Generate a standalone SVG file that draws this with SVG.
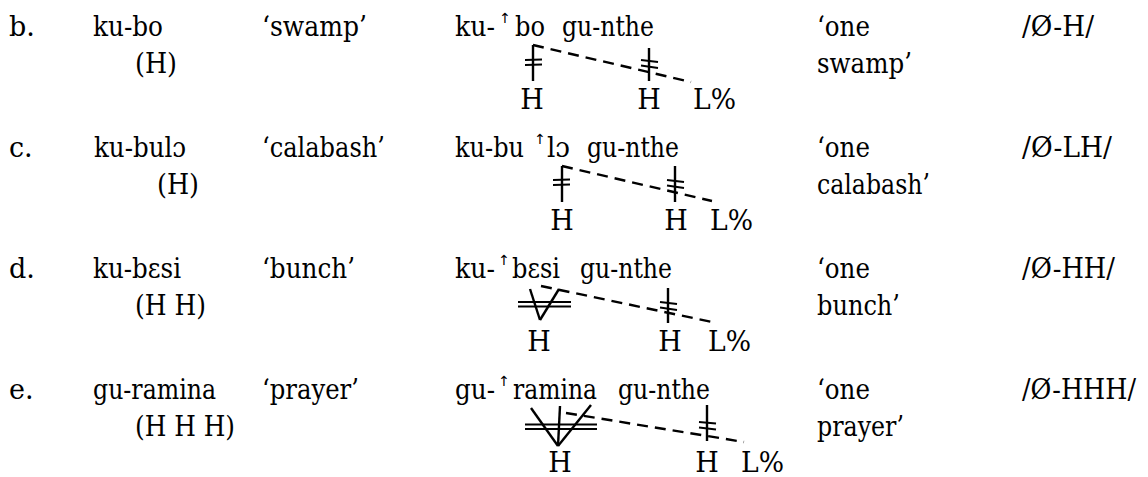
<svg xmlns="http://www.w3.org/2000/svg" width="1148" height="477" viewBox="0 0 1148 477">
<style>
text { font-family: 'DejaVu Serif', 'Liberation Serif', serif; font-size: 27px; fill: #000; }
.arr { font-family: 'DejaVu Sans', sans-serif; font-size: 14px; text-anchor: middle; }
.mid { text-anchor: middle; }
.assoc { stroke: #000; stroke-width: 2.4; fill: none; }
.dash { stroke: #000; stroke-width: 2.4; stroke-dasharray: 11 7; fill: none; }
.bar { stroke: #000; stroke-width: 1.8; fill: none; }
</style>
<rect width="1148" height="477" fill="#fff"/>

<g id="row-b">
  <text x="9" y="36">b.</text>
  <text x="93" y="36" textLength="70" lengthAdjust="spacingAndGlyphs">ku-bo</text>
  <text x="135" y="73" textLength="42" lengthAdjust="spacingAndGlyphs">(H)</text>
  <text x="262" y="36" textLength="105" lengthAdjust="spacingAndGlyphs">‘swamp’</text>
  <text x="455" y="36" textLength="40" lengthAdjust="spacingAndGlyphs">ku-</text>
  <text class="arr" x="505" y="23">↑</text>
  <text x="515" y="36" textLength="30" lengthAdjust="spacingAndGlyphs">bo</text>
  <text x="562" y="36" textLength="92" lengthAdjust="spacingAndGlyphs">gu-nthe</text>
  <text class="mid" x="532" y="109">H</text>
  <text class="mid" x="649" y="109">H</text>
  <text x="693" y="109" textLength="43" lengthAdjust="spacingAndGlyphs">L%</text>
  <text x="817" y="36" textLength="53" lengthAdjust="spacingAndGlyphs">‘one</text>
  <text x="817" y="73" textLength="95" lengthAdjust="spacingAndGlyphs">swamp’</text>
  <text x="1022" y="36" textLength="72" lengthAdjust="spacingAndGlyphs">/Ø-H/</text>
</g>

<g id="row-c">
  <text x="9" y="157">c.</text>
  <text x="94" y="157" textLength="92" lengthAdjust="spacingAndGlyphs">ku-bulɔ</text>
  <text x="157" y="194" textLength="42" lengthAdjust="spacingAndGlyphs">(H)</text>
  <text x="262" y="157" textLength="123" lengthAdjust="spacingAndGlyphs">‘calabash’</text>
  <text x="455" y="157" textLength="69" lengthAdjust="spacingAndGlyphs">ku-bu</text>
  <text class="arr" x="540" y="144">↑</text>
  <text x="547" y="157" textLength="23" lengthAdjust="spacingAndGlyphs">lɔ</text>
  <text x="587" y="157" textLength="92" lengthAdjust="spacingAndGlyphs">gu-nthe</text>
  <text class="mid" x="562" y="230">H</text>
  <text class="mid" x="676" y="230">H</text>
  <text x="710" y="230" textLength="43" lengthAdjust="spacingAndGlyphs">L%</text>
  <text x="817" y="157" textLength="53" lengthAdjust="spacingAndGlyphs">‘one</text>
  <text x="817" y="194" textLength="113" lengthAdjust="spacingAndGlyphs">calabash’</text>
  <text x="1022" y="157" textLength="90" lengthAdjust="spacingAndGlyphs">/Ø-LH/</text>
</g>

<g id="row-d">
  <text x="9" y="278">d.</text>
  <text x="93" y="278" textLength="88" lengthAdjust="spacingAndGlyphs">ku-bɛsi</text>
  <text x="135" y="315" textLength="71" lengthAdjust="spacingAndGlyphs">(H H)</text>
  <text x="262" y="278" textLength="93" lengthAdjust="spacingAndGlyphs">‘bunch’</text>
  <text x="455" y="278" textLength="40" lengthAdjust="spacingAndGlyphs">ku-</text>
  <text class="arr" x="504" y="265">↑</text>
  <text x="512" y="278" textLength="48" lengthAdjust="spacingAndGlyphs">bɛsi</text>
  <text x="580" y="278" textLength="92" lengthAdjust="spacingAndGlyphs">gu-nthe</text>
  <text class="mid" x="539" y="351">H</text>
  <text class="mid" x="670" y="351">H</text>
  <text x="708" y="351" textLength="43" lengthAdjust="spacingAndGlyphs">L%</text>
  <text x="817" y="278" textLength="53" lengthAdjust="spacingAndGlyphs">‘one</text>
  <text x="817" y="315" textLength="83" lengthAdjust="spacingAndGlyphs">bunch’</text>
  <text x="1022" y="278" textLength="93" lengthAdjust="spacingAndGlyphs">/Ø-HH/</text>
</g>

<g id="row-e">
  <text x="9" y="399">e.</text>
  <text x="93" y="399" textLength="123" lengthAdjust="spacingAndGlyphs">gu-ramina</text>
  <text x="135" y="436" textLength="100" lengthAdjust="spacingAndGlyphs">(H H H)</text>
  <text x="262" y="399" textLength="97" lengthAdjust="spacingAndGlyphs">‘prayer’</text>
  <text x="455" y="399" textLength="40" lengthAdjust="spacingAndGlyphs">gu-</text>
  <text class="arr" x="504" y="386">↑</text>
  <text x="513" y="399" textLength="84" lengthAdjust="spacingAndGlyphs">ramina</text>
  <text x="618" y="399" textLength="92" lengthAdjust="spacingAndGlyphs">gu-nthe</text>
  <text class="mid" x="560" y="472">H</text>
  <text class="mid" x="707" y="472">H</text>
  <text x="741" y="472" textLength="43" lengthAdjust="spacingAndGlyphs">L%</text>
  <text x="817" y="399" textLength="53" lengthAdjust="spacingAndGlyphs">‘one</text>
  <text x="817" y="436" textLength="87" lengthAdjust="spacingAndGlyphs">prayer’</text>
  <text x="1022" y="399" textLength="114" lengthAdjust="spacingAndGlyphs">/Ø-HHH/</text>
</g>

<g id="connectors">
  <line class="assoc" x1="533" y1="45" x2="533" y2="81"/>
  <line class="bar" x1="525" y1="60" x2="542" y2="59.5"/>
  <line class="bar" x1="525" y1="65" x2="542" y2="64.5"/>
  <line class="assoc" x1="649" y1="48" x2="649" y2="81"/>
  <line class="bar" x1="641" y1="60" x2="658" y2="62"/>
  <line class="bar" x1="641" y1="65.5" x2="658" y2="68"/>
  <line class="dash" x1="533" y1="45" x2="691" y2="82"/>

  <line class="assoc" x1="562" y1="166" x2="562" y2="202"/>
  <line class="bar" x1="553" y1="180" x2="570" y2="179.5"/>
  <line class="bar" x1="553" y1="185" x2="570" y2="184.5"/>
  <line class="assoc" x1="675" y1="166" x2="675" y2="202"/>
  <line class="bar" x1="667" y1="180" x2="684" y2="182"/>
  <line class="bar" x1="667" y1="185.5" x2="684" y2="188"/>
  <line class="dash" x1="562" y1="166" x2="712" y2="201"/>

  <line class="assoc" x1="530" y1="289" x2="540" y2="320"/>
  <line class="assoc" x1="559" y1="289" x2="540" y2="320"/>
  <line class="bar" x1="518" y1="302" x2="571" y2="302"/>
  <line class="bar" x1="518" y1="306.5" x2="571" y2="306.5"/>
  <line class="assoc" x1="668" y1="288" x2="668" y2="323"/>
  <line class="bar" x1="660" y1="302" x2="677" y2="304"/>
  <line class="bar" x1="660" y1="307.5" x2="677" y2="310"/>
  <line class="dash" x1="541" y1="286" x2="712" y2="322"/>

  <line class="assoc" x1="531" y1="408" x2="558" y2="446"/>
  <line class="assoc" x1="560" y1="406" x2="558" y2="446"/>
  <line class="assoc" x1="591" y1="405" x2="558" y2="446"/>
  <line class="bar" x1="525" y1="424.5" x2="597" y2="424.5"/>
  <line class="bar" x1="525" y1="429" x2="597" y2="429"/>
  <line class="assoc" x1="707" y1="405" x2="707" y2="441"/>
  <line class="bar" x1="699" y1="422" x2="716" y2="423.5"/>
  <line class="bar" x1="699" y1="427.5" x2="716" y2="429.5"/>
  <line class="dash" x1="566" y1="413" x2="744" y2="442"/>
</g>
</svg>
